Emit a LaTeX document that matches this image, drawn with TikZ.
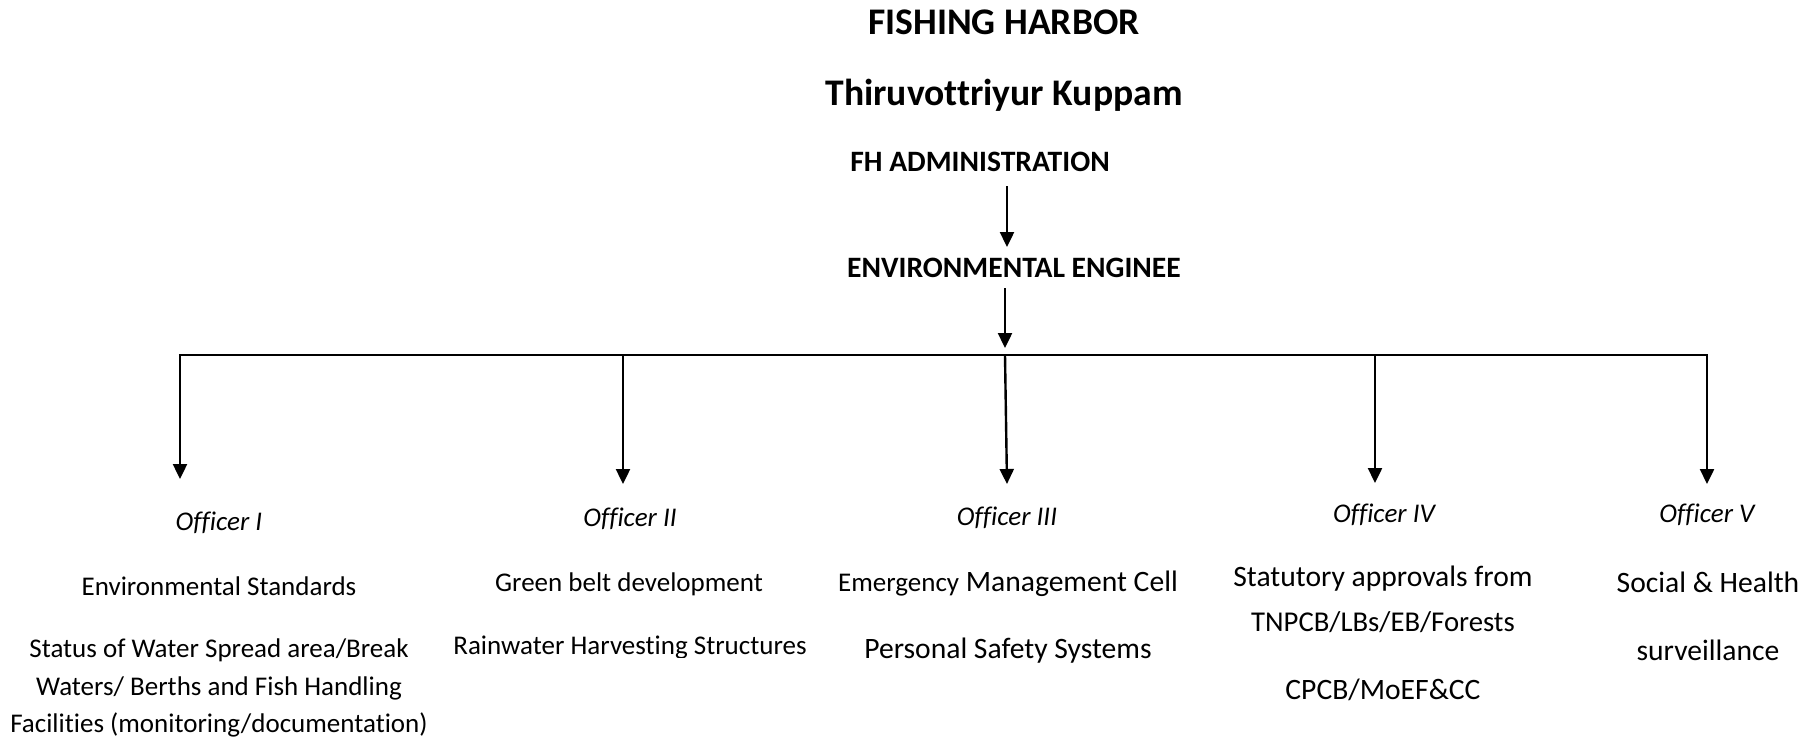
\documentclass[tikz,border=0pt]{standalone}
\usepackage{fontspec}
\setmainfont{Carlito}[Ligatures=NoCommon]
\usetikzlibrary{arrows.meta}
\begin{document}
\begin{tikzpicture}[x=1pt,y=-1pt,
  every node/.style={inner sep=0pt, outer sep=0pt, align=center},
  headline/.style={font=\fontsize{37.6}{44}\selectfont\bfseries},
  rank/.style={font=\fontsize{29.6}{35}\selectfont\bfseries},
  officer/.style={font=\fontsize{27}{32}\selectfont\itshape},
  duty/.style={font=\fontsize{27}{37.6}\selectfont},
  bigduty/.style={font=\fontsize{29.6}{36}\selectfont},
  link/.style={line width=2.4pt, -{Triangle[length=15pt,width=14pt]}},
  bus/.style={line width=2.4pt}]
\useasboundingbox (0,0) rectangle (1813,740);

% heading
\node[headline] (title) at (1004,22) {FISHING HARBOR};
\node[headline] (place) at (1004,95) {Thiruvottriyur Kuppam};

% chain of command
\node[rank] (admin) at (980,162) {FH ADMINISTRATION};
\node[rank] (engineer) at (1014,268) {ENVIRONMENTAL ENGINEE};
\coordinate (a1) at (1007,186);
\coordinate (a1t) at (1007,247);
\coordinate (a2) at (1005,288);
\coordinate (a2t) at (1005,348);
\draw[link] (a1) -- (a1t);
\draw[link] (a2) -- (a2t);

% distribution bus
\coordinate (b1) at (180,355);
\coordinate (b2) at (623,355);
\coordinate (b3) at (1005,355);
\coordinate (b4) at (1375,355);
\coordinate (b5) at (1707,355);
\draw[bus] ([xshift=-1.2pt]b1) -- ([xshift=1.2pt]b5);
\coordinate (t1) at (180,479);
\coordinate (t2) at (623,484);
\coordinate (t3) at (1007,484);
\coordinate (t4) at (1375,483);
\coordinate (t5) at (1707,484);
\draw[link] (b1) -- (t1);
\draw[link] (b2) -- (t2);
\draw[link] (b3) -- (t3);
\draw[link] (b4) -- (t4);
\draw[link] (b5) -- (t5);

% officers
\node[officer] (o1) at (219,523) {Officer I};
\node[officer] (o2) at (630,519) {Officer II};
\node[officer] (o3) at (1007,518) {Officer III};
\node[officer] (o4) at (1384,515) {Officer IV};
\node[officer] (o5) at (1707,515) {Officer V};

% duties
\node[duty] (d1a) at (219,586) {Environmental Standards};
\node[duty] (d1b) at (219,688) {Status of Water Spread area/Break\\Waters/ Berths and Fish Handling\\Facilities (monitoring/documentation)};

\node[duty] (d2a) at (629,584) {Green belt development};
\begin{scope}
  \clip (380,620) rectangle (880,657);
  \node[duty] (d2b) at (630,648) {Rainwater Harvesting Structures};
\end{scope}

\node[bigduty] (d3a) at (1008,584) {{\fontsize{27}{32}\selectfont Emergency} Management Cell};
\node[bigduty] (d3b) at (1008,651) {Personal Safety Systems};

\node[bigduty] (d4a) at (1383,579) {Statutory approvals from};
\node[bigduty] (d4b) at (1383,622) {{\fontsize{28.7}{34}\selectfont TNPCB/LBs/EB/Forests}};
\node[bigduty] (d4c) at (1383,690) {CPCB/MoEF\&CC};

\node[bigduty] (d5a) at (1708,582) {Social \& Health};
\node[bigduty] (d5b) at (1708,650) {surveillance};
\end{tikzpicture}
\end{document}
